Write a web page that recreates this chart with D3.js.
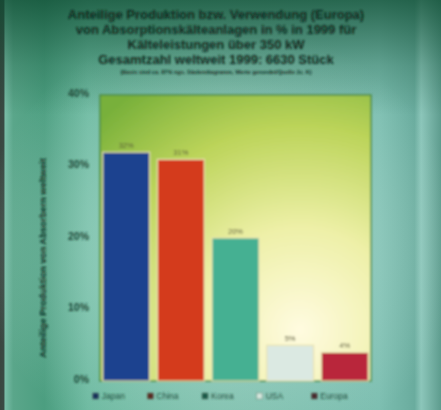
<html>
<head>
<meta charset="utf-8">
<script src="https://d3js.org/d3.v7.min.js"></script>
<style>
body { margin: 0; background: #2a6f58; }
text { font-family: "Liberation Sans", Arial, sans-serif; }
</style>
</head>
<body>
<div id="chart"></div>
<script>
// data
var countries = ["Japan", "China", "Korea", "USA", "Europa"];
var shares = [32, 31, 20, 5, 4];
var barColors = ["#1c438f", "#d43a1c", "#45b092", "#dbe9e2", "#b9283a"];
var legendMarks = ["#17305a", "#5a2a20", "#1f5a48", "#d6e6dd", "#4a2a2e"];
var yTicks = [0, 10, 20, 30, 40];
var titleLines = [
  "Anteilige Produktion bzw. Verwendung (Europa)",
  "von Absorptionskälteanlagen in % in 1999 für",
  "Kälteleistungen über 350 kW",
  "Gesamtzahl weltweit 1999: 6630 Stück"
];
var noteLine = "(Basis sind ca. 87% ngs. Säulendiagramm, Werte gerundet/Quelle Jc. K)";
var yTitle = "Anteilige Produktion von Absorbern weltweit";

const w = 441, h = 410;
const pLeft = 100, pRight = 371, pTop = 95, pBottom = 381;

const svg = d3.select("#chart").append("svg")
  .attr("width", w).attr("height", h);

const defs = svg.append("defs");
const bg = defs.append("linearGradient").attr("id", "bg")
  .attr("x1", 0).attr("y1", 0).attr("x2", 1).attr("y2", 0);
[["0%", "#3a4640"], ["0.8%", "#3a4a44"], ["1.2%", "#78bca6"], ["3%", "#5aa68a"],
 ["10%", "#4c9e80"], ["20%", "#6ab89e"], ["50%", "#78bca8"], ["86%", "#7cbeb0"],
 ["94%", "#6aac9e"], ["95.5%", "#8cc6ba"], ["100%", "#5e9c8e"]].forEach(function(s) {
  bg.append("stop").attr("offset", s[0]).attr("stop-color", s[1]);
});

const glow = defs.append("radialGradient").attr("id", "glow")
  .attr("cx", 0.5).attr("cy", 0.6).attr("r", 0.55);
glow.append("stop").attr("offset", "0%").attr("stop-color", "#c4e8e0").attr("stop-opacity", 0.7);
glow.append("stop").attr("offset", "100%").attr("stop-color", "#c4e8e0").attr("stop-opacity", 0);

const vTop = defs.append("linearGradient").attr("id", "vtop")
  .attr("x1", 0).attr("y1", 0).attr("x2", 0).attr("y2", 1);
vTop.append("stop").attr("offset", "0%").attr("stop-color", "#0c4a30").attr("stop-opacity", 0.75);
vTop.append("stop").attr("offset", "16%").attr("stop-color", "#0c4a30").attr("stop-opacity", 0.25);
vTop.append("stop").attr("offset", "28%").attr("stop-color", "#0c4a30").attr("stop-opacity", 0);

const plotBg = defs.append("radialGradient").attr("id", "plotbg")
  .attr("gradientUnits", "userSpaceOnUse")
  .attr("cx", 300).attr("cy", 330).attr("r", 290);
plotBg.append("stop").attr("offset", "0%").attr("stop-color", "#fffbe0");
plotBg.append("stop").attr("offset", "35%").attr("stop-color", "#eef0a8");
plotBg.append("stop").attr("offset", "70%").attr("stop-color", "#bcd45a");
plotBg.append("stop").attr("offset", "100%").attr("stop-color", "#78b03a");

const blur = defs.append("filter").attr("id", "soft");
blur.append("feGaussianBlur").attr("stdDeviation", 0.8);

// photo background
svg.append("rect").attr("width", w).attr("height", h).attr("fill", "url(#bg)");
svg.append("rect").attr("width", w).attr("height", h).attr("fill", "url(#glow)");
svg.append("rect").attr("width", w).attr("height", h).attr("fill", "url(#vtop)");

const g = svg.append("g").attr("filter", "url(#soft)");

const x = d3.scaleBand().domain(countries).range([pLeft, pRight])
  .paddingInner(0.14).paddingOuter(0.05);
const y = d3.scaleLinear().domain([0, 40]).range([pBottom, pTop]);

g.append("rect")
  .attr("x", pLeft).attr("y", pTop)
  .attr("width", pRight - pLeft).attr("height", pBottom - pTop)
  .attr("fill", "url(#plotbg)")
  .attr("stroke", "#4a8a48").attr("stroke-width", 1.5);

// bars
g.selectAll(".bar")
  .data(shares)
  .enter()
  .append("rect")
  .attr("x", (d, i) => x(countries[i]))
  .attr("y", d => y(d))
  .attr("width", x.bandwidth())
  .attr("height", d => y(0) - y(d))
  .attr("fill", (d, i) => barColors[i])
  .attr("stroke", "#e8e2b0")
  .attr("stroke-width", 1.2);

g.selectAll(".val")
  .data(shares)
  .enter()
  .append("text")
  .attr("x", (d, i) => x(countries[i]) + x.bandwidth() / 2)
  .attr("y", d => y(d) - 4)
  .attr("text-anchor", "middle")
  .attr("font-size", 7.5)
  .attr("fill", "#5a5a3a")
  .text(d => d + "%");

// y axis labels
const yAxis = d3.axisLeft(y).tickValues(yTicks).tickFormat(d => d + "%").tickSize(0).tickPadding(11);
const ya = g.append("g").attr("transform", `translate(${pLeft}, 0)`).call(yAxis);
ya.select(".domain").remove();
ya.selectAll("text")
  .attr("font-size", 10.5).attr("font-weight", "bold")
  .attr("fill", "#1f4636").attr("dy", "0.1em");

g.append("text")
  .attr("transform", "translate(46, 258) rotate(-90)")
  .attr("text-anchor", "middle")
  .attr("font-size", 9.4).attr("font-weight", "bold")
  .attr("fill", "#10281e")
  .text(yTitle);

// title
g.selectAll(".title")
  .data(titleLines)
  .enter()
  .append("text")
  .attr("x", 216)
  .attr("y", (d, i) => 19 + i * 15)
  .attr("text-anchor", "middle")
  .attr("font-size", 13)
  .attr("font-weight", "bold")
  .attr("fill", "#0e261c")
  .text(d => d);
g.append("text")
  .attr("x", 216).attr("y", 74)
  .attr("text-anchor", "middle")
  .attr("font-size", 5.6)
  .attr("font-weight", "bold")
  .attr("fill", "#10281e")
  .text(noteLine);

// legend
const leg = g.selectAll(".leg")
  .data(countries)
  .enter()
  .append("g")
  .attr("transform", (d, i) => `translate(${x(d) - 10}, 397)`);
leg.append("rect")
  .attr("x", 0).attr("y", -4).attr("width", 6).attr("height", 6)
  .attr("fill", (d, i) => legendMarks[i])
  .attr("stroke", "#5a7a6a").attr("stroke-width", 0.5);
leg.append("text")
  .attr("x", 9).attr("y", 2)
  .attr("font-size", 8.5)
  .attr("fill", "#1f4a3a")
  .text(d => d);
</script>
</body>
</html>
